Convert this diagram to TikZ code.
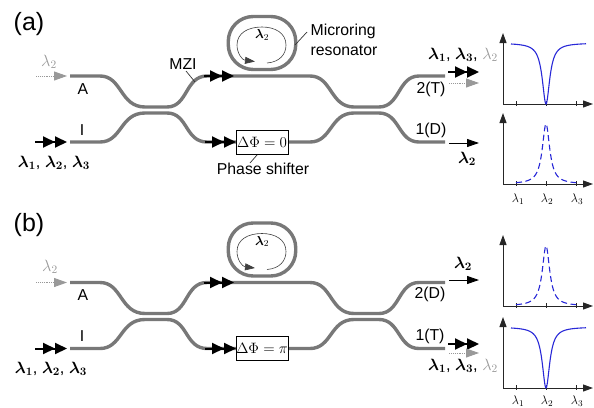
\documentclass[tikz,border=0pt]{standalone}
\usepackage{fix-cm}
\usepackage{amsmath}
\usepackage[no-math]{fontspec}
\setmainfont{Liberation Sans}
\usetikzlibrary{arrows.meta}
\newcommand{\fs}[1]{\fontsize{#1}{#1}\selectfont}
\newcommand{\bl}[1]{$\boldsymbol{\lambda}_{\mathbf{#1}}$}
\definecolor{wg}{gray}{0.47}
\definecolor{lite}{gray}{0.6}
\definecolor{curve}{RGB}{40,40,215}
\tikzset{
  x=1pt,y=-1pt,
  guide/.style={draw=wg,line width=3.4pt,line join=round},
  dbl/.style={line width=2pt,-{Triangle[length=12pt,width=11pt]Triangle[length=12pt,width=11pt]}},
  sgl/.style={line width=.9pt,-{Triangle[length=12pt,width=8pt]}},
  ghost/.style={draw=lite,line width=.9pt,densely dotted,-{Triangle[length=13pt,width=9pt,fill=lite]}},
  leader/.style={line width=.7pt,black!80},
  axis/.style={line width=1pt,black!85,-{Triangle[length=10pt,width=7pt]}},
  tick/.style={line width=.8pt,black!85},
  lab/.style={inner sep=0pt,font=\fs{15.8}},
  big/.style={inner sep=0pt,font=\fs{25}},
  wl/.style={inner sep=0pt,font=\fs{16.3}},
  tl/.style={inner sep=0pt,font=\fs{12.5}},
  shifter/.style={draw=black,line width=1pt,fill=white,minimum width=52pt,minimum height=24.5pt,inner sep=0pt,font=\fs{15}},
  resp/.style={curve,line width=1.1pt},
}
\newcommand{\Notch}[3]{\draw[resp,domain=511:586,samples=151] plot (\x,{#1+(#2-#1)/(1+((\x-546)/#3)^2)});}
\newcommand{\Peak}[3]{\draw[resp,dash pattern=on 6pt off 3.5pt,domain=516:576,samples=151] plot (\x,{#1+(#2-#1)/(1+((\x-546)/#3)^2)});}
\newcommand{\Axes}[3]{%
  \coordinate (#1o) at (503,#2);\coordinate (#1t) at (503,#3);\coordinate (#1r) at (593,#2);
  \draw[axis] (#1o) -- (#1t);
  \draw[axis] (#1o) -- (#1r);
  \foreach \q in {516,546,576}{\draw[tick] (\q,#2-3) -- (\q,#2+2);}
}
\newcommand{\Guides}[1]{%
  \coordinate (#1a) at (70,76);\coordinate (#1i) at (70,142);
  \coordinate (#1p) at (445,76);\coordinate (#1q) at (445,142);
  \draw[guide] (#1a) -- (100,76) .. controls (122,76) and (120,107) .. (145,107) -- (167,107)
    .. controls (188,107) and (185,76) .. (207,76) -- (310,76)
    .. controls (332,76) and (330,107) .. (354,107) -- (379,107)
    .. controls (400,107) and (398,76) .. (419,76) -- (#1p);
  \draw[guide] (#1i) -- (100,142) .. controls (122,142) and (120,113) .. (145,113) -- (167,113)
    .. controls (188,113) and (185,142) .. (207,142) -- (236,142);
  \draw[guide] (288,142) -- (310,142) .. controls (332,142) and (330,113) .. (354,113) -- (379,113)
    .. controls (400,113) and (398,142) .. (419,142) -- (#1q);
  % ring
  \node[draw=wg,line width=3.4pt,rounded corners=25pt,minimum width=67.5pt,minimum height=53pt,inner sep=0pt] (#1ring) at (262,43) {};
  \draw[line width=.6pt,black!75,-{Triangle[length=10pt,width=7pt]}] (267,63)
    .. controls (280,62) and (286,54) .. (286,45) .. controls (286,33) and (275,27) .. (262,27)
    .. controls (248,27) and (237,33) .. (237,45) .. controls (237,53) and (242,60) .. (255,61.5);
  \node[inner sep=0pt,font=\fs{13}] (#1rl) at (262,35) {$\boldsymbol{\lambda}_2$};
  % input arrows
  \coordinate (#1g0) at (36,76);\coordinate (#1g1) at (67,76);
  \draw[ghost] (#1g0) -- (#1g1);
  \coordinate (#1i0) at (35,142);\coordinate (#1i1) at (67,142);
  \draw[dbl] (#1i0) -- (#1i1);
  \coordinate (#1m0) at (204,76);\coordinate (#1m1) at (234,76);
  \draw[dbl] (#1m0) -- (#1m1);
  \coordinate (#1n0) at (205,142);\coordinate (#1n1) at (236,142);
  \draw[dbl] (#1n0) -- (#1n1);
  \node[lab] (#1A) at (83,89) {A};
  \node[lab] (#1I) at (82,130) {I};
}
\begin{document}
\begin{tikzpicture}
\useasboundingbox (0,0) rectangle (594,407);
% ---------- (a)
\node[big] (alab) at (29,24) {(a)};
\Guides{a}
\node[shifter] (abox) at (262,142.5) {$\Delta\Phi=0$};
\node[wl,text=lite] (agl) at (49,62) {$\lambda_2$};
\node[wl] (ain) at (54,163) {\bl1, \bl2, \bl3};
\node[lab] (amzi) at (183,64) {MZI};
\coordinate (amz0) at (186,71);\coordinate (amz1) at (195,82);
\draw[leader] (amz0) -- (amz1);
\node[lab] (aps) at (263,169) {Phase shifter};
\coordinate (aps0) at (257,155);\coordinate (aps1) at (250,163);
\draw[leader] (aps0) -- (aps1);
\node[lab,align=left] (amr) at (344,40) {Microring\\[4pt]resonator};
\coordinate (amr0) at (295,45);\coordinate (amr1) at (307,32);
\draw[leader] (amr0) -- (amr1);
% outputs
\node[lab] (at) at (431,89) {2(T)};
\node[lab] (ad) at (431,130) {1(D)};
\coordinate (ao0) at (448,72);\coordinate (ao1) at (479,72);
\draw[dbl] (ao0) -- (ao1);
\coordinate (ag0) at (449,83);\coordinate (ag1) at (479,83);
\draw[ghost] (ag0) -- (ag1);
\coordinate (ad0) at (449,143);\coordinate (ad1) at (479,143);
\draw[sgl] (ad0) -- (ad1);
\node[wl] (aout) at (463,55) {\bl1, \bl3, \textcolor{lite}{$\lambda_2$}};
\node[wl] (adl) at (467,159) {\bl2};
% plots
\Axes{p}{104}{33}
\Notch{43}{104}{4.5}
\Axes{r}{184}{113}
\Peak{184}{124}{4.5}
\node[tl] (x1) at (518,199) {$\lambda_1$};
\node[tl] (x2) at (547,199) {$\lambda_2$};
\node[tl] (x3) at (577,199) {$\lambda_3$};
% ---------- (b)
\node[big] (blab) at (29,225) {(b)};
\begin{scope}[yshift=-206.5pt]
\Guides{b}
\end{scope}
\node[shifter] (bbox) at (262,348.5) {$\Delta\Phi=\pi$};
\node[wl,text=lite] (bgl) at (50,267) {$\lambda_2$};
\node[wl] (bin) at (51,369) {\bl1, \bl2, \bl3};
\node[lab] (bd) at (430,294) {2(D)};
\node[lab] (bt) at (430,336) {1(T)};
\coordinate (bd0) at (449,280);\coordinate (bd1) at (479,280);
\draw[sgl] (bd0) -- (bd1);
\coordinate (bo0) at (448,344);\coordinate (bo1) at (479,344);
\draw[dbl] (bo0) -- (bo1);
\coordinate (bg0) at (449,353);\coordinate (bg1) at (479,353);
\draw[ghost] (bg0) -- (bg1);
\node[wl] (bdl) at (463,264) {\bl2};
\node[wl] (bout) at (463,366) {\bl1, \bl3, \textcolor{lite}{$\lambda_2$}};
\Axes{s}{306}{235}
\Peak{306}{246}{4.5}
\Axes{u}{388}{317}
\Notch{327}{388}{4.5}
\node[tl] (y1) at (518,401) {$\lambda_1$};
\node[tl] (y2) at (547,401) {$\lambda_2$};
\node[tl] (y3) at (577,401) {$\lambda_3$};
\end{tikzpicture}
\end{document}
